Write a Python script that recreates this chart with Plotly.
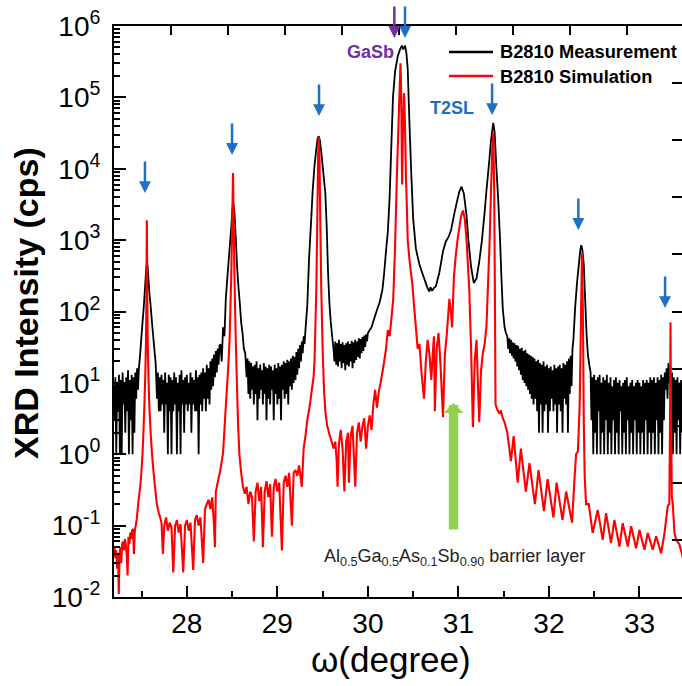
import plotly.graph_objects as go

# ---------------- data (omega in degree, intensity in cps) -------------
measurement = [
    # background 27.19-27.46
    (27.19, 9), (27.20, 3), (27.21, 12), (27.22, 1), (27.23, 10), (27.24, 4), (27.25, 13), (27.26, 1),
    (27.27, 11), (27.28, 1), (27.29, 14), (27.30, 5), (27.31, 10), (27.32, 2), (27.33, 12), (27.34, 4),
    (27.35, 15), (27.36, 1), (27.37, 11), (27.38, 3), (27.39, 13), (27.40, 1), (27.41, 12), (27.42, 2),
    (27.43, 14), (27.44, 6), (27.45, 16), (27.46, 8),
    # peak near 27.56
    (27.470, 16), (27.480, 22), (27.490, 32), (27.500, 48), (27.510, 70), (27.520, 100), (27.530, 150),
    (27.540, 240), (27.550, 380), (27.558, 490), (27.566, 430), (27.575, 290), (27.585, 190),
    (27.595, 140), (27.605, 100), (27.615, 70), (27.625, 50), (27.635, 36), (27.645, 26), (27.655, 19),
    # background
    (27.67, 6), (27.68, 14), (27.69, 4), (27.70, 12), (27.71, 4), (27.72, 13), (27.73, 5), (27.74, 11),
    (27.75, 2), (27.76, 14), (27.77, 5), (27.78, 10), (27.79, 1), (27.80, 13), (27.81, 4), (27.82, 12),
    (27.83, 1), (27.84, 11), (27.85, 4), (27.86, 14), (27.87, 5), (27.88, 12), (27.89, 1), (27.90, 10),
    (27.91, 4), (27.92, 13), (27.93, 1), (27.94, 15), (27.95, 5), (27.96, 11), (27.97, 2), (27.98, 12),
    (27.99, 5), (28.00, 13), (28.01, 4), (28.02, 10), (28.03, 5), (28.04, 14), (28.05, 2), (28.06, 12),
    (28.07, 5), (28.08, 11), (28.09, 4), (28.10, 15), (28.11, 4), (28.12, 12), (28.13, 1), (28.14, 13),
    (28.15, 5), (28.16, 14), (28.17, 4), (28.18, 16), (28.19, 6), (28.20, 14), (28.21, 4), (28.22, 18),
    (28.23, 6), (28.24, 16), (28.25, 5), (28.26, 20), (28.27, 8), (28.28, 22), (28.29, 9), (28.30, 25),
    (28.31, 12), (28.32, 28), (28.33, 14), (28.34, 30), (28.35, 18), (28.36, 33),
    # peak near 28.51
    (28.370, 35), (28.385, 20), (28.400, 60), (28.415, 45), (28.430, 150), (28.450, 330), (28.470, 700),
    (28.490, 1500), (28.505, 2900), (28.515, 3200), (28.525, 2500), (28.540, 1100), (28.555, 420),
    (28.570, 220), (28.585, 130), (28.600, 70), (28.615, 50), (28.630, 30), (28.645, 26),
    # background
    (28.66, 12), (28.67, 22), (28.68, 7), (28.69, 20), (28.70, 6), (28.71, 19), (28.72, 8), (28.73, 17),
    (28.74, 5), (28.75, 18), (28.76, 7), (28.77, 20), (28.78, 3), (28.79, 16), (28.80, 6), (28.81, 18),
    (28.82, 8), (28.83, 15), (28.84, 5), (28.85, 19), (28.86, 7), (28.87, 17), (28.88, 3), (28.89, 16),
    (28.90, 6), (28.91, 18), (28.92, 5), (28.93, 17), (28.94, 8), (28.95, 15), (28.96, 3), (28.97, 18),
    (28.98, 7), (28.99, 16), (29.00, 5), (29.01, 19), (29.02, 6), (29.03, 17), (29.04, 3), (29.05, 18),
    (29.06, 8), (29.07, 20), (29.08, 6), (29.09, 19), (29.10, 7), (29.11, 21), (29.12, 5), (29.13, 20),
    (29.14, 9), (29.15, 22), (29.16, 8), (29.17, 24), (29.18, 10), (29.19, 23), (29.20, 11), (29.21, 27),
    (29.22, 13), (29.23, 30), (29.24, 16), (29.25, 34), (29.26, 20), (29.27, 38), (29.28, 26),
    (29.29, 45), (29.30, 35), (29.31, 55),
    # peak near 29.46
    (29.330, 120), (29.350, 550), (29.370, 1600), (29.390, 5000), (29.410, 11000), (29.430, 19000),
    (29.445, 27000), (29.457, 28500), (29.470, 25000), (29.485, 17000), (29.500, 11000), (29.515, 7000),
    (29.530, 4500), (29.545, 1500), (29.560, 350), (29.575, 130), (29.590, 70), (29.605, 45),
    # background
    (29.62, 30), (29.63, 20), (29.64, 38), (29.65, 18), (29.66, 36), (29.67, 17), (29.68, 40), (29.69, 20),
    (29.70, 35), (29.71, 16), (29.72, 37), (29.73, 19), (29.74, 34), (29.75, 15), (29.76, 36), (29.77, 18),
    (29.78, 38), (29.79, 17), (29.80, 35), (29.81, 20), (29.82, 39), (29.83, 16), (29.84, 37), (29.85, 19),
    (29.86, 40), (29.87, 21), (29.88, 38), (29.89, 23), (29.90, 42), (29.91, 22), (29.92, 41), (29.93, 26),
    (29.94, 44), (29.95, 28), (29.96, 46), (29.97, 32), (29.98, 48), (29.99, 38), (30.00, 50),
    # GaSb substrate, barrier layer and T2SL 0th order
    (30.02, 55), (30.04, 60), (30.07, 80), (30.10, 105), (30.13, 135), (30.16, 200), (30.18, 350),
    (30.20, 700), (30.22, 1300), (30.24, 4000), (30.257, 18000), (30.277, 100000), (30.300, 230000),
    (30.330, 380000), (30.355, 470000), (30.375, 530000), (30.390, 470000), (30.410, 530000),
    (30.425, 420000), (30.440, 250000), (30.460, 40000), (30.480, 8000), (30.500, 2000), (30.530, 760),
    (30.570, 450), (30.610, 320), (30.640, 250), (30.660, 210), (30.680, 190), (30.690, 220),
    (30.710, 195), (30.730, 215), (30.750, 225), (30.770, 280), (30.790, 355), (30.810, 500),
    (30.830, 700), (30.860, 950), (30.890, 1100), (30.920, 1400), (30.950, 2200), (30.980, 3300),
    (31.010, 4800), (31.035, 5600), (31.060, 4500), (31.090, 2200), (31.110, 1000), (31.140, 420),
    (31.170, 250), (31.200, 290), (31.230, 500), (31.260, 1000), (31.290, 2500), (31.310, 5000),
    (31.340, 12600), (31.360, 25000), (31.385, 44000), (31.400, 32000), (31.420, 10000), (31.440, 3600),
    (31.460, 1000), (31.475, 300), (31.490, 110), (31.510, 60), (31.525, 50),
    # background
    (31.54, 45), (31.55, 30), (31.56, 42), (31.57, 26), (31.58, 40), (31.59, 24), (31.60, 37), (31.61, 22),
    (31.62, 36), (31.63, 20), (31.64, 34), (31.65, 17), (31.66, 33), (31.67, 15), (31.68, 30), (31.69, 13),
    (31.70, 31), (31.71, 11), (31.72, 28), (31.73, 10), (31.74, 29), (31.75, 9), (31.76, 26), (31.77, 8),
    (31.78, 25), (31.79, 7), (31.80, 24), (31.81, 6), (31.82, 23), (31.83, 5), (31.84, 22), (31.85, 6),
    (31.86, 20), (31.87, 4), (31.88, 21), (31.89, 2), (31.90, 19), (31.91, 5), (31.92, 18), (31.93, 2),
    (31.94, 20), (31.95, 4), (31.96, 17), (31.97, 5), (31.98, 18), (31.99, 2), (32.00, 16), (32.01, 4),
    (32.02, 17), (32.03, 6), (32.04, 15), (32.05, 4), (32.06, 18), (32.07, 5), (32.08, 16), (32.09, 2),
    (32.10, 17), (32.11, 5), (32.12, 18), (32.13, 4), (32.14, 16), (32.15, 2), (32.16, 19), (32.17, 6),
    (32.18, 18), (32.19, 5), (32.20, 20), (32.21, 2), (32.22, 22), (32.23, 7), (32.24, 24), (32.25, 9),
    (32.26, 30), (32.27, 40),
    # peak near 32.36
    (32.290, 115), (32.310, 250), (32.330, 450), (32.345, 700), (32.357, 850), (32.370, 720),
    (32.385, 450), (32.400, 150), (32.415, 50), (32.430, 25), (32.445, 18),
    # background
    (32.46, 14), (32.47, 3), (32.48, 12), (32.49, 1), (32.50, 13), (32.51, 2), (32.52, 11), (32.53, 1),
    (32.54, 12), (32.55, 4), (32.56, 13), (32.57, 1), (32.58, 10), (32.59, 2), (32.60, 12), (32.61, 1),
    (32.62, 11), (32.63, 3), (32.64, 13), (32.65, 1), (32.66, 10), (32.67, 2), (32.68, 12), (32.69, 1),
    (32.70, 9), (32.71, 3), (32.72, 11), (32.73, 1), (32.74, 12), (32.75, 2), (32.76, 10), (32.77, 1),
    (32.78, 11), (32.79, 4), (32.80, 9), (32.81, 1), (32.82, 10), (32.83, 2), (32.84, 11), (32.85, 1),
    (32.86, 12), (32.87, 3), (32.88, 9), (32.89, 1), (32.90, 10), (32.91, 2), (32.92, 11), (32.93, 1),
    (32.94, 9), (32.95, 3), (32.96, 10), (32.97, 1), (32.98, 11), (32.99, 2), (33.00, 10), (33.01, 1),
    (33.02, 9), (33.03, 2), (33.04, 11), (33.05, 1), (33.06, 10), (33.07, 3), (33.08, 11), (33.09, 1),
    (33.10, 10), (33.11, 2), (33.12, 12), (33.13, 1), (33.14, 11), (33.15, 2), (33.16, 12), (33.17, 1),
    (33.18, 10), (33.19, 3), (33.20, 12), (33.21, 1), (33.22, 11), (33.23, 2), (33.24, 13), (33.25, 1),
    (33.26, 12), (33.27, 3), (33.28, 14),
    # weak peak near 33.33 and tail
    (33.29, 8), (33.30, 16), (33.31, 6), (33.32, 19), (33.33, 10), (33.34, 17), (33.35, 3), (33.36, 14),
    (33.37, 1), (33.38, 12), (33.39, 2), (33.40, 11), (33.41, 1), (33.42, 12), (33.43, 3), (33.44, 10),
    (33.45, 1), (33.46, 11), (33.47, 2), (33.48, 12),
]

simulation = [
    # left background
    (27.190, 0.045), (27.200, 0.05), (27.210, 0.035), (27.220, 0.045), (27.230, 0.025), (27.240, 0.04),
    (27.248, 0.011), (27.256, 0.04), (27.265, 0.05), (27.275, 0.03), (27.285, 0.055), (27.295, 0.06),
    (27.305, 0.045), (27.315, 0.065), (27.325, 0.055), (27.335, 0.04), (27.345, 0.02), (27.355, 0.07),
    (27.365, 0.055), (27.375, 0.08), (27.385, 0.065), (27.395, 0.085), (27.405, 0.09), (27.415, 0.04),
    (27.425, 0.085), (27.435, 0.1), (27.445, 0.12),
    # peak near 27.56
    (27.455, 0.16), (27.470, 0.25), (27.485, 0.35), (27.497, 0.55), (27.510, 1.0), (27.520, 2.0),
    (27.530, 4.5), (27.540, 12), (27.548, 35), (27.553, 150), (27.558, 1900), (27.563, 150),
    (27.568, 35), (27.576, 12), (27.586, 4.5), (27.600, 2.0), (27.615, 1.0), (27.630, 0.6),
    (27.648, 0.35), (27.668, 0.2), (27.690, 0.15),
    # fringes
    (27.705, 0.13), (27.720, 0.11), (27.735, 0.04), (27.750, 0.1), (27.770, 0.13), (27.790, 0.085),
    (27.810, 0.11), (27.830, 0.095), (27.850, 0.022), (27.870, 0.1), (27.890, 0.12), (27.910, 0.08),
    (27.930, 0.105), (27.960, 0.022), (27.980, 0.1), (28.000, 0.12), (28.020, 0.085), (28.040, 0.11),
    (28.070, 0.024), (28.090, 0.12), (28.110, 0.14), (28.130, 0.1), (28.150, 0.13), (28.180, 0.03),
    (28.200, 0.17), (28.220, 0.2), (28.240, 0.23), (28.260, 0.17), (28.280, 0.25), (28.300, 0.1),
    (28.310, 0.05), (28.320, 0.3), (28.340, 0.4), (28.370, 0.6), (28.400, 1.05),
    # peak near 28.51
    (28.430, 4.6), (28.455, 15), (28.472, 40), (28.490, 300), (28.500, 1500), (28.510, 8700),
    (28.518, 1500), (28.525, 340), (28.540, 40), (28.555, 8), (28.565, 2.8), (28.580, 1.0),
    (28.600, 0.55), (28.620, 0.35), (28.640, 0.28),
    # fringes
    (28.660, 0.35), (28.680, 0.2), (28.700, 0.3), (28.720, 0.25), (28.740, 0.06), (28.760, 0.3),
    (28.780, 0.4), (28.800, 0.22), (28.820, 0.35), (28.840, 0.05), (28.860, 0.3), (28.880, 0.42),
    (28.900, 0.25), (28.920, 0.38), (28.940, 0.07), (28.960, 0.35), (28.980, 0.45), (29.000, 0.3),
    (29.020, 0.4), (29.050, 0.045), (29.070, 0.4), (29.090, 0.5), (29.110, 0.35), (29.130, 0.55),
    (29.160, 0.1), (29.180, 0.55), (29.200, 0.6), (29.220, 0.5), (29.240, 0.7), (29.270, 0.35),
    (29.290, 1.2), (29.310, 1.8), (29.330, 3.0),
    # peak near 29.46
    (29.360, 5), (29.380, 8), (29.400, 12), (29.410, 20), (29.420, 60), (29.430, 200), (29.440, 1500),
    (29.450, 15000), (29.457, 28000), (29.465, 15000), (29.475, 1500), (29.485, 200), (29.500, 30),
    (29.515, 8), (29.530, 4), (29.550, 2.5), (29.580, 1.8), (29.600, 1.5), (29.620, 1.2),
    # fringes
    (29.640, 1.5), (29.655, 0.8), (29.665, 0.35), (29.680, 1.4), (29.700, 2.2), (29.720, 1.2),
    (29.740, 0.3), (29.760, 1.5), (29.780, 2.0), (29.790, 0.4), (29.810, 1.8), (29.830, 2.5),
    (29.860, 0.35), (29.880, 2.0), (29.900, 2.8), (29.920, 1.5), (29.940, 2.5), (29.960, 3.2),
    (29.980, 1.2), (30.000, 2.5), (30.020, 3.5), (30.040, 2.2), (30.060, 5), (30.080, 8), (30.100, 4.5),
    (30.120, 7.5), (30.140, 10), (30.160, 14), (30.180, 20), (30.200, 30), (30.220, 55), (30.240, 45),
    (30.260, 80), (30.280, 150), (30.300, 800),
    # GaSb
    (30.320, 8000), (30.340, 50000), (30.352, 150000), (30.360, 300000), (30.368, 120000),
    (30.378, 6000), (30.388, 40000), (30.400, 115000), (30.410, 40000), (30.420, 8000), (30.430, 3000),
    (30.440, 1000), (30.455, 600),
    # barrier layer region and T2SL
    (30.470, 400), (30.490, 250), (30.510, 120), (30.530, 60), (30.550, 30), (30.570, 35), (30.590, 15),
    (30.610, 8), (30.620, 6), (30.640, 20), (30.660, 40), (30.680, 25), (30.700, 11), (30.720, 30),
    (30.730, 45), (30.740, 4), (30.760, 30), (30.780, 50), (30.800, 20), (30.830, 3.3), (30.850, 25),
    (30.870, 45), (30.890, 100), (30.900, 150), (30.920, 90), (30.930, 60), (30.950, 300), (30.970, 600),
    (30.990, 1000), (31.010, 1500), (31.030, 2200), (31.050, 2600), (31.070, 2000), (31.090, 1000),
    (31.120, 200), (31.140, 30), (31.160, 2.4), (31.180, 20), (31.200, 40), (31.215, 10), (31.230, 2.8),
    (31.250, 15), (31.270, 26), (31.290, 35), (31.310, 63), (31.330, 300), (31.345, 1000),
    (31.360, 5000), (31.375, 20000), (31.385, 32000), (31.395, 5000), (31.402, 300), (31.410, 5),
    (31.430, 4.2), (31.450, 3.8), (31.470, 4.0), (31.490, 3.2), (31.510, 2.8), (31.540, 2.0),
    # fringes
    (31.580, 0.8), (31.610, 1.8), (31.655, 0.4), (31.690, 1.2), (31.745, 0.3), (31.785, 0.75),
    (31.845, 0.2), (31.885, 0.6), (31.945, 0.16), (31.985, 0.45), (32.050, 0.13), (32.085, 0.4),
    (32.150, 0.12), (32.190, 0.3), (32.255, 0.11), (32.280, 0.4), (32.300, 1.0), (32.320, 1.1),
    # peak near 32.36
    (32.340, 5), (32.355, 100), (32.365, 660), (32.375, 100), (32.385, 3), (32.395, 0.5), (32.410, 0.2),
    (32.440, 0.2),
    # fringes
    (32.483, 0.079), (32.539, 0.166), (32.594, 0.063), (32.631, 0.15), (32.686, 0.057), (32.723, 0.12),
    (32.779, 0.051), (32.815, 0.108), (32.871, 0.051), (32.908, 0.098), (32.963, 0.048), (33.000, 0.087),
    (33.055, 0.046), (33.092, 0.079), (33.147, 0.046), (33.184, 0.071), (33.240, 0.041), (33.277, 0.079),
    (33.313, 0.19),
    # peak near 33.34
    (33.330, 0.2), (33.338, 3), (33.343, 70), (33.349, 3), (33.358, 0.25), (33.368, 0.2), (33.387, 0.079),
    (33.406, 0.063), (33.440, 0.055), (33.468, 0.041), (33.480, 0.035),
]

series_names = ["B2810 Measurement", "B2810 Simulation"]
series_colors = ["#000000", "#ff0000"]

x_ticks = [28, 29, 30, 31, 32, 33]
y_exponents = [-2, -1, 0, 1, 2, 3, 4, 5, 6]

# annotation arrows: (omega, log10 intensity of tip, colour)
down_arrows = [
    (27.537, 3.660, "#1f6fc2"), (28.499, 4.193, "#1f6fc2"), (29.460, 4.739, "#1f6fc2"),
    (30.292, 5.832, "#7030a0"), (30.410, 5.832, "#1f6fc2"), (31.372, 4.753, "#1f6fc2"),
    (32.325, 3.142, "#1f6fc2"), (33.283, 2.049, "#1f6fc2"),
]

FONT = "Liberation Sans, Arial, sans-serif"

meas_omega = [p[0] for p in measurement]
meas_cps = [p[1] for p in measurement]
sim_omega = [p[0] for p in simulation]
sim_cps = [p[1] for p in simulation]

fig = go.Figure()
fig.add_trace(go.Scatter(x=meas_omega, y=meas_cps, mode="lines", name=series_names[0],
                         line=dict(color=series_colors[0], width=1.8, simplify=False),
                         showlegend=False))
fig.add_trace(go.Scatter(x=sim_omega, y=sim_cps, mode="lines", name=series_names[1],
                         line=dict(color=series_colors[1], width=2.1, simplify=False),
                         showlegend=False))
# invisible trace that carries the unlabelled top / right frame axes
fig.add_trace(go.Scatter(x=[0], y=[0], xaxis="x2", yaxis="y2", mode="markers",
                         marker=dict(opacity=0), hoverinfo="skip", showlegend=False))

minor_y = [m * 10.0 ** e for e in range(-2, 6) for m in range(2, 10)]

fig.update_layout(
    width=682, height=686,
    margin=dict(l=114, r=0, t=26, b=89),
    paper_bgcolor="white", plot_bgcolor="white",
    font=dict(family=FONT, color="black"),
    xaxis=dict(range=[27.195, 33.47], tickvals=x_ticks, ticktext=[str(v) for v in x_ticks],
               ticks="inside", ticklen=11, tickwidth=2, tickcolor="black",
               minor=dict(dtick=0.5, ticks="inside", ticklen=6, tickwidth=2, tickcolor="black"),
               showline=True, linewidth=2, linecolor="black", showgrid=False, zeroline=False,
               tickfont=dict(size=28, family=FONT), mirror=False),
    yaxis=dict(type="log", range=[-2, 6],
               tickvals=[10.0 ** e for e in y_exponents],
               ticktext=["10<sup>%d</sup>" % e for e in y_exponents],
               ticks="inside", ticklen=12, tickwidth=2, tickcolor="black",
               minor=dict(tickvals=minor_y, ticks="inside", ticklen=6, tickwidth=1.5,
                          tickcolor="black"),
               showline=True, linewidth=2, linecolor="black", showgrid=False, zeroline=False,
               tickfont=dict(size=28, family=FONT), ticklabelstandoff=6),
    xaxis2=dict(overlaying="x", side="top", range=[0, 10 * 568 / 570], tickvals=list(range(11)),
                ticks="inside", ticklen=9, tickwidth=2, tickcolor="black", showticklabels=False,
                showline=True, linewidth=2, linecolor="black", showgrid=False, zeroline=False,
                anchor="y2"),
    yaxis2=dict(overlaying="y", side="right", range=[0, 10], tickvals=list(range(11)),
                ticks="inside", ticklen=10, tickwidth=2, tickcolor="black", showticklabels=False,
                showline=False, showgrid=False, zeroline=False, anchor="x2"),
)

annotations = []
for ox, ly, col in down_arrows:
    annotations.append(dict(x=ox, y=ly, xref="x", yref="y", text="", showarrow=True,
                            ax=0, ay=-33, arrowhead=2, arrowsize=0.95, arrowwidth=2.5,
                            arrowcolor=col))
# green barrier-layer arrow
annotations.append(dict(x=30.946, y=0.718, xref="x", yref="y", text="", showarrow=True,
                        ax=0, ay=128, arrowhead=1, arrowsize=0.35, arrowwidth=9.5,
                        arrowcolor="#92d050"))
annotations += [
    dict(x=30.024, y=5.636, xref="x", yref="y", text="<b>GaSb</b>", showarrow=False,
         font=dict(size=18, color="#7030a0", family=FONT)),
    dict(x=30.924, y=4.851, xref="x", yref="y", text="<b>T2SL</b>", showarrow=False,
         font=dict(size=18, color="#1f6fc2", family=FONT)),
    dict(x=30.952, y=-1.44, xref="x", yref="y",
         text="Al<sub>0.5</sub>Ga<sub>0.5</sub>As<sub>0.1</sub>Sb<sub>0.90</sub> barrier layer",
         showarrow=False, font=dict(size=18, color="#222222", family=FONT)),
    dict(x=-0.1549, y=0.515, xref="paper", yref="paper", text="<b>XRD Intensity (cps)</b>",
         textangle=-90, showarrow=False, xanchor="center", yanchor="middle",
         font=dict(size=34, family=FONT)),
    dict(x=0.4877, y=-0.1103, xref="paper", yref="paper", text="ω(degree)", showarrow=False,
         xanchor="center", yanchor="middle", font=dict(size=35, family=FONT)),
]
# manual legend
legend_rows = [(0.9545, series_names[0], series_colors[0]), (0.9124, series_names[1], series_colors[1])]
shapes = []
for yy, name, col in legend_rows:
    shapes.append(dict(type="line", xref="paper", yref="paper", x0=0.5898, x1=0.6673, y0=yy, y1=yy,
                       line=dict(color=col, width=2.7)))
    annotations.append(dict(x=0.676, y=yy, xref="paper", yref="paper", text="<b>%s</b>" % name,
                            showarrow=False, xanchor="left", yanchor="middle",
                            font=dict(size=18.3, family=FONT)))
fig.update_layout(annotations=annotations, shapes=shapes)

fig.write_html("out.html")
